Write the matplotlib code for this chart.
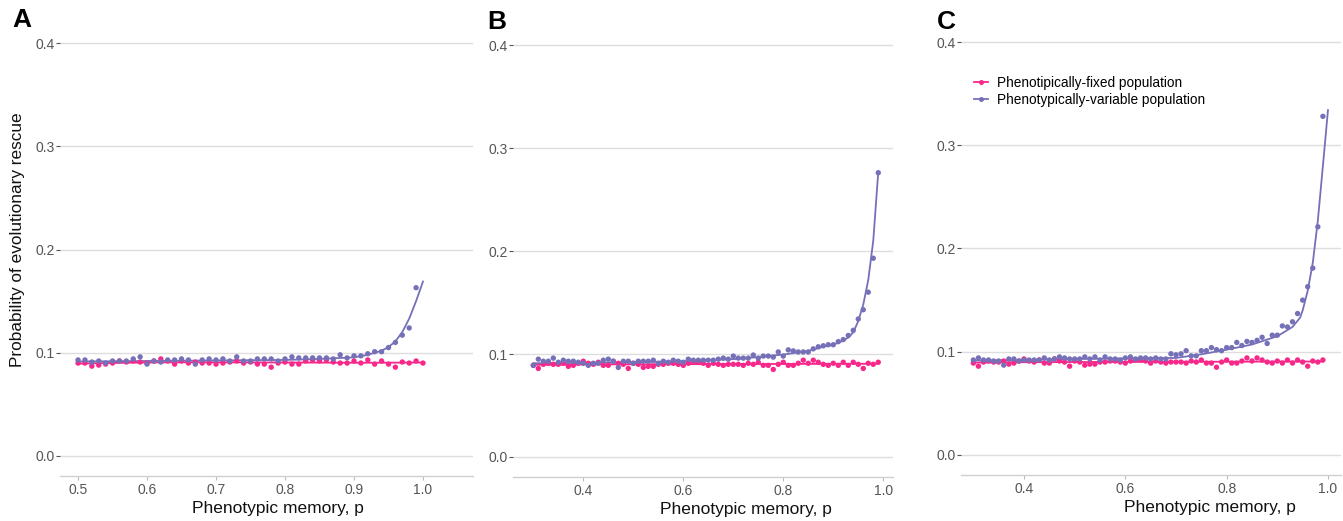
import numpy as np
import matplotlib
matplotlib.use("Agg")
import matplotlib.pyplot as plt
from matplotlib.lines import Line2D

plt.rcParams['font.family'] = ['Liberation Sans', 'DejaVu Sans']

PINK = "#F7288A"
PURPLE = "#7570B8"

# ---------------- data ----------------
p_A = np.round(np.arange(0.50, 1.0001, 0.01), 2)
fixed_A = [0.090, 0.090, 0.087, 0.088, 0.089, 0.090, 0.092, 0.091, 0.092, 0.091,
           0.090, 0.092, 0.094, 0.092, 0.089, 0.092, 0.090, 0.091, 0.090, 0.090,
           0.089, 0.090, 0.091, 0.092, 0.090, 0.091, 0.089, 0.089, 0.086, 0.090,
           0.091, 0.089, 0.089, 0.092, 0.093, 0.092, 0.093, 0.091, 0.090, 0.090,
           0.092, 0.090, 0.093, 0.089, 0.092, 0.089, 0.086, 0.091, 0.090, 0.092,
           0.090]
variable_A = [0.093, 0.093, 0.091, 0.092, 0.090, 0.092, 0.092, 0.092, 0.094, 0.096,
              0.089, 0.092, 0.091, 0.093, 0.093, 0.094, 0.093, 0.089, 0.093, 0.094,
              0.093, 0.094, 0.092, 0.096, 0.092, 0.092, 0.094, 0.094, 0.094, 0.092,
              0.094, 0.096, 0.095, 0.095, 0.095, 0.095, 0.095, 0.094, 0.098, 0.095,
              0.097, 0.097, 0.099, 0.101, 0.101, 0.105, 0.110, 0.117, 0.124, 0.163,
              np.nan]
curve_x_A = [0.50, 0.60, 0.70, 0.80, 0.85, 0.90, 0.92, 0.94, 0.95, 0.96, 0.97, 0.98, 0.99, 1.00]
curve_y_A = [0.0915, 0.092, 0.0925, 0.093, 0.094, 0.0955, 0.098, 0.102, 0.1055, 0.111,
             0.120, 0.133, 0.150, 0.169]

p_BC = np.round(np.arange(0.30, 0.9901, 0.01), 2)
fixed_BC = [0.089, 0.086, 0.090, 0.091, 0.090, 0.090, 0.091, 0.088, 0.089, 0.091,
            0.093, 0.091, 0.090, 0.092, 0.089, 0.089, 0.093, 0.091, 0.090, 0.086,
            0.091, 0.090, 0.087, 0.088, 0.088, 0.090, 0.090, 0.091, 0.091, 0.090,
            0.089, 0.091, 0.092, 0.092, 0.091, 0.089, 0.091, 0.090, 0.089, 0.090,
            0.090, 0.090, 0.089, 0.091, 0.090, 0.092, 0.089, 0.089, 0.085, 0.090,
            0.092, 0.089, 0.089, 0.091, 0.094, 0.091, 0.094, 0.092, 0.090, 0.089,
            0.091, 0.089, 0.092, 0.089, 0.092, 0.090, 0.086, 0.091, 0.090, 0.092]
variable_B = [0.089, 0.095, 0.093, 0.093, 0.096, 0.092, 0.094, 0.093, 0.093, 0.092,
              0.091, 0.089, 0.091, 0.091, 0.094, 0.095, 0.093, 0.087, 0.093, 0.093,
              0.091, 0.093, 0.093, 0.093, 0.094, 0.091, 0.093, 0.092, 0.094, 0.093,
              0.092, 0.095, 0.094, 0.094, 0.094, 0.094, 0.094, 0.095, 0.096, 0.095,
              0.098, 0.096, 0.096, 0.096, 0.099, 0.096, 0.098, 0.098, 0.097, 0.102,
              0.098, 0.104, 0.103, 0.102, 0.102, 0.102, 0.105, 0.107, 0.108, 0.109,
              0.109, 0.112, 0.114, 0.118, 0.123, 0.134, 0.143, 0.160, 0.193, 0.276]
curve_x_B = [0.30, 0.40, 0.50, 0.60, 0.65, 0.70, 0.75, 0.80, 0.85, 0.88, 0.90, 0.92,
             0.93, 0.94, 0.95, 0.96, 0.97, 0.98, 0.99]
curve_y_B = [0.091, 0.0915, 0.092, 0.093, 0.094, 0.095, 0.097, 0.0995, 0.103, 0.107,
             0.109, 0.113, 0.116, 0.121, 0.132, 0.148, 0.172, 0.210, 0.277]

variable_C = [0.092, 0.094, 0.092, 0.092, 0.091, 0.091, 0.087, 0.093, 0.093, 0.091,
              0.092, 0.092, 0.092, 0.092, 0.094, 0.092, 0.093, 0.095, 0.094, 0.093,
              0.093, 0.093, 0.095, 0.093, 0.095, 0.092, 0.095, 0.093, 0.093, 0.092,
              0.094, 0.095, 0.093, 0.094, 0.094, 0.093, 0.094, 0.093, 0.093, 0.098,
              0.097, 0.098, 0.101, 0.096, 0.096, 0.101, 0.101, 0.104, 0.102, 0.101,
              0.104, 0.104, 0.109, 0.106, 0.110, 0.109, 0.111, 0.114, 0.108, 0.116,
              0.116, 0.125, 0.124, 0.129, 0.137, 0.150, 0.163, 0.181, 0.221, 0.328]
curve_x_C = [0.30, 0.40, 0.50, 0.60, 0.70, 0.75, 0.80, 0.85, 0.90, 0.93, 0.945, 0.95,
             0.96, 0.97, 0.98, 0.99, 1.00]
curve_y_C = [0.0915, 0.092, 0.093, 0.0935, 0.094, 0.0975, 0.102, 0.107, 0.115, 0.124,
             0.133, 0.140, 0.159, 0.186, 0.227, 0.280, 0.334]

y_ticks = [0.0, 0.1, 0.2, 0.3, 0.4]
x_ticks_A = [0.5, 0.6, 0.7, 0.8, 0.9, 1.0]
x_ticks_BC = [0.4, 0.6, 0.8, 1.0]

panels = [
    dict(label="A", p=p_A, fixed=fixed_A, var=variable_A, cx=curve_x_A, cy=curve_y_A,
         xt=x_ticks_A, rect=[0.0447, 0.0864, 0.3075, 0.8706], xlim=(0.4739, 1.0725),
         xlab_x=0.528, legend=False, lab_pos=(12, 8)),
    dict(label="B", p=p_BC, fixed=fixed_BC, var=variable_B, cx=curve_x_B, cy=curve_y_B,
         xt=x_ticks_BC, rect=[0.3820, 0.0845, 0.2829, 0.8686], xlim=(0.2594, 1.0194),
         xlab_x=0.613, legend=False, lab_pos=(487, 10)),
    dict(label="C", p=p_BC, fixed=fixed_BC, var=variable_C, cx=curve_x_C, cy=curve_y_C,
         xt=x_ticks_BC, rect=[0.7156, 0.0883, 0.2829, 0.8707], xlim=(0.2757, 1.0257),
         xlab_x=0.655, legend=True, lab_pos=(937, 10)),
]

W, H = 1343, 521
fig = plt.figure(figsize=(W / 100, H / 100), dpi=100)

for i, pn in enumerate(panels):
    ax = fig.add_axes(pn["rect"])
    p = np.asarray(pn["p"], dtype=float)
    fixed = np.asarray(pn["fixed"], dtype=float)
    var = np.asarray(pn["var"], dtype=float)

    # smooth fit for fixed population
    coef = np.polyfit(p, fixed, 3)
    ps = np.linspace(p.min(), p.max(), 200)
    ax.plot(ps, np.polyval(coef, ps), color=PINK, lw=1.3, zorder=3)
    ax.scatter(p, fixed, s=15, color=PINK, edgecolors='none', zorder=4)

    ax.plot(pn["cx"], pn["cy"], color=PURPLE, lw=1.3, zorder=3)
    ax.scatter(p, var, s=15, color=PURPLE, edgecolors='none', zorder=4)

    ax.set_xlim(*pn["xlim"])
    ax.set_ylim(-0.0194, 0.42)
    ax.set_yticks(y_ticks)
    ax.set_yticklabels([f"{v:.1f}" for v in y_ticks])
    ax.set_xticks(pn["xt"])
    ax.set_xticklabels([f"{v:.1f}" for v in pn["xt"]])

    ax.grid(axis='y', color='#DEDEDE', lw=1.0)
    ax.grid(axis='x', visible=False)
    ax.set_axisbelow(True)
    for s in ['top', 'right', 'left']:
        ax.spines[s].set_visible(False)
    ax.spines['bottom'].set_color('#D0D0D0')
    ax.spines['bottom'].set_linewidth(1.0)
    ax.tick_params(axis='y', length=3, width=0.8, color='#555555', pad=1,
                   labelsize=10, labelcolor='#555555')
    ax.tick_params(axis='x', length=3, width=0.8, color='#BBBBBB', pad=2,
                   labelsize=10, labelcolor='#555555')

    ax.set_xlabel("Phenotypic memory, p", fontsize=12.5, color='#111111')
    ax.xaxis.set_label_coords(pn["xlab_x"], -0.055)
    if i == 0:
        ax.set_ylabel("Probability of evolutionary rescue", fontsize=12.4, color='#111111')
        ax.yaxis.set_label_coords(-0.085, 0.52)

    fig.text(pn["lab_pos"][0] / W, 1 - pn["lab_pos"][1] / H, pn["label"],
             fontsize=19, fontweight='bold', ha='left', va='top')

    if pn["legend"]:
        handles = [
            Line2D([0], [0], color=PINK, lw=1.3, marker='o', markersize=3.6,
                   markeredgewidth=0),
            Line2D([0], [0], color=PURPLE, lw=1.3, marker='o', markersize=3.6,
                   markeredgewidth=0),
        ]
        ax.legend(handles, ["Phenotipically-fixed population",
                            "Phenotypically-variable population"],
                  loc='upper left', bbox_to_anchor=(0.02, 0.892), frameon=False,
                  fontsize=9.8, handlelength=1.0, handletextpad=0.7,
                  labelspacing=0.25, borderaxespad=0.0)

fig.savefig("out.png", dpi=100)
